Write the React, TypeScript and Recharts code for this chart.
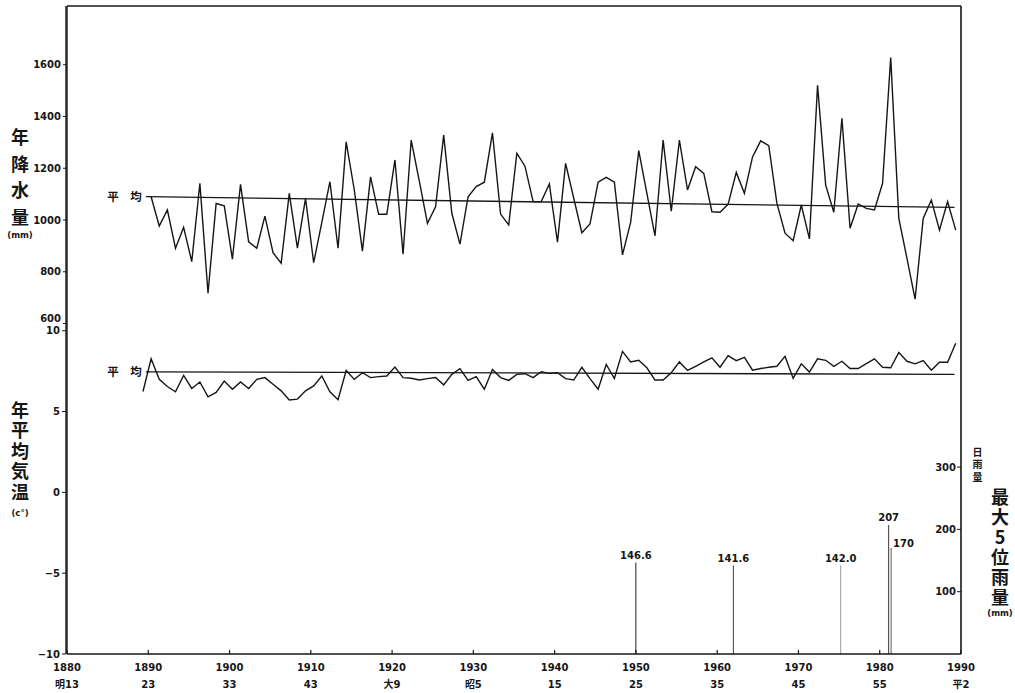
import { ComposedChart, Line, Bar, Cell, XAxis, YAxis, LabelList } from "recharts";

// annual precipitation (mm), 1890-1989
const precipStartYear = 1890;
const precipMm = [
  1090, 977, 1039, 891, 972, 839, 1142, 717, 1064, 1055,
  849, 1138, 916, 891, 1015, 874, 833, 1103, 891, 1084,
  835, 990, 1148, 891, 1302, 1116, 880, 1167, 1022, 1022,
  1232, 868, 1309, 1150, 987, 1051, 1328, 1026, 907, 1090,
  1129, 1146, 1337, 1023, 981, 1258, 1208, 1071, 1071, 1139,
  914, 1219, 1084, 951, 985, 1146, 1165, 1146, 865, 991,
  1268, 1103, 939, 1309, 1034, 1309, 1116, 1206, 1180, 1032,
  1030, 1061, 1184, 1103, 1244, 1306, 1287, 1064, 949, 920,
  1058, 927, 1521, 1135, 1030, 1393, 968, 1062, 1045, 1039,
  1142, 1628, 1006, 852, 694, 1006, 1077, 961, 1071, 961,
];

// annual mean temperature (C), 1889-1989
const tempStartYear = 1889;
const tempC = [
  6.24, 8.26, 6.99, 6.55, 6.22, 7.24, 6.43, 6.83, 5.91, 6.18,
  6.89, 6.38, 6.83, 6.43, 6.99, 7.1, 6.69, 6.28, 5.71, 5.77,
  6.28, 6.59, 7.2, 6.22, 5.73, 7.54, 6.99, 7.4, 7.1, 7.16,
  7.2, 7.75, 7.1, 7.06, 6.95, 7.04, 7.1, 6.65, 7.3, 7.65,
  6.93, 7.16, 6.38, 7.6, 7.1, 6.93, 7.3, 7.34, 7.1, 7.46,
  7.36, 7.4, 7.04, 6.95, 7.74, 7.04, 6.38, 7.91, 7.04, 8.72,
  8.07, 8.17, 7.71, 6.95, 6.95, 7.4, 8.07, 7.54, 7.8, 8.07,
  8.32, 7.74, 8.46, 8.15, 8.35, 7.56, 7.66, 7.74, 7.8, 8.41,
  7.05, 7.95, 7.44, 8.26, 8.17, 7.8, 8.11, 7.66, 7.66, 7.97,
  8.26, 7.74, 7.71, 8.66, 8.11, 7.95, 8.15, 7.56, 8.05, 8.05,
  9.23,
];

// mean ("平均") lines
const meanYears = [1889.7, 1989.2];
const precipMean = [1090, 1049];
const tempMean = [7.46, 7.3];

// top 5 daily rainfall events (mm)
const rainYears = [1950, 1962, 1975.2, 1981.1, 1981.4];
const rainMm = [146.6, 141.6, 142.0, 207, 170];
const rainLabels = ["146.6", "141.6", "142.0", "207", "170"];

const yearTicks = [1880, 1890, 1900, 1910, 1920, 1930, 1940, 1950, 1960, 1970, 1980, 1990];
const eraLabels = ["明13", "23", "33", "43", "大9", "昭5", "15", "25", "35", "45", "55", "平2"];
const precipTicks = [600, 800, 1000, 1200, 1400, 1600];
const tempTicks = [-10, -5, 0, 5, 10];
const rainTicks = [100, 200, 300];

// annual values are plotted a little into the year
const MID = 0.35;

const precipRows = precipMm.map((v, i) => ({ x: precipStartYear + i + MID, precip: v }));
const tempRows = tempC.map((v, i) => ({ x: tempStartYear + i + MID, temp: v }));
const precipMeanRows = meanYears.map((x, i) => ({ x, mean: precipMean[i] }));
const tempMeanRows = meanYears.map((x, i) => ({ x, mean: tempMean[i] }));
const rainRows = rainYears.map((x, i) => ({ x, rain: rainMm[i] }));

const rainColors = ["#111", "#1a1a1a", "#8a8a8a", "#111", "#555"];

const INK = "#161616";
const NUM_FONT = "'DejaVu Sans', 'Noto Sans CJK JP', sans-serif";
const JP_FONT = "'Noto Sans CJK JP', sans-serif";
const tickStyle = { fontSize: 10, fontFamily: NUM_FONT, fontWeight: 700, fill: INK };

function YearTick(props: any) {
  const { x, y, payload } = props;
  const i = yearTicks.indexOf(payload.value);
  return (
    <g>
      <line x1={x} x2={x} y1={y} y2={y - 4} stroke={INK} strokeWidth={1.2} />
      <text x={x} y={y + 16.5} textAnchor="middle" style={tickStyle}>
        {payload.value}
      </text>
      <text x={x} y={y + 34} textAnchor="middle" style={tickStyle}>
        {eraLabels[i]}
      </text>
    </g>
  );
}

// the lowest precipitation label sits just above the "10" of the temperature scale
function PrecipTick(props: any) {
  const { x, y, payload } = props;
  const lift = payload.value === precipTicks[0] ? -5 : 0;
  return (
    <text x={x} y={y + lift} dy={3.5} textAnchor="end" style={tickStyle}>
      {payload.value}
    </text>
  );
}

function meanLabel(p: any) {
  if (p.index !== 0) return null;
  return (
    <text x={p.x - 4} y={p.y + 4.5} textAnchor="end" fontSize={11.5} fontWeight={700} fontFamily={JP_FONT} fill={INK}>
      平　均
    </text>
  );
}

function rainLabel(p: any) {
  const cx = p.x + p.width / 2;
  const last = p.index === rainMm.length - 1;
  return (
    <text
      x={last ? cx + 2 : cx}
      y={last ? p.y - 1 : p.y - 4}
      textAnchor={last ? "start" : "middle"}
      style={tickStyle}
    >
      {rainLabels[p.index]}
    </text>
  );
}

// vertical (tategaki) title, one text node
function VTitle({ text, x, top, size, step }: { text: string; x: number; top: number; size: number; step: number }) {
  return (
    <div
      style={{
        position: "absolute",
        left: x - size / 2,
        top,
        writingMode: "vertical-rl",
        textOrientation: "upright",
        fontSize: size,
        lineHeight: size + "px",
        letterSpacing: step - size,
        fontWeight: 700,
        fontFamily: JP_FONT,
        color: INK,
        whiteSpace: "nowrap",
      }}
    >
      {text}
    </div>
  );
}

function Unit({ text, x, top }: { text: string; x: number; top: number }) {
  return (
    <div
      style={{
        position: "absolute",
        left: x - 20,
        top,
        width: 40,
        textAlign: "center",
        fontSize: 8.5,
        lineHeight: "12px",
        fontWeight: 700,
        fontFamily: NUM_FONT,
        color: INK,
      }}
    >
      {text}
    </div>
  );
}

export default function App() {
  return (
    <div style={{ position: "absolute", left: 0, top: 0, width: 1015, height: 693, background: "#fff" }}>
      <ComposedChart width={1015} height={693} data={rainRows} margin={{ top: 5, right: 54, bottom: 0, left: 0 }}>
        <XAxis
          dataKey="x"
          type="number"
          domain={[1880, 1990]}
          ticks={yearTicks}
          interval={0}
          allowDataOverflow
          height={39}
          tickSize={0}
          tickMargin={0}
          tickLine={false}
          tick={<YearTick />}
          axisLine={{ stroke: INK, strokeWidth: 1.4 }}
        />
        <XAxis
          xAxisId="top"
          orientation="top"
          type="number"
          domain={[1880, 1990]}
          height={1}
          tick={false}
          tickLine={false}
          axisLine={{ stroke: INK, strokeWidth: 1.4 }}
        />
        <YAxis
          yAxisId="p"
          width={1}
          type="number"
          domain={[-677, 1827]}
          allowDataOverflow
          ticks={precipTicks}
          interval={0}
          tickSize={4}
          tickMargin={2}
          tick={<PrecipTick />}
          tickLine={{ stroke: INK }}
          axisLine={{ stroke: INK, strokeWidth: 1.4 }}
        />
        <YAxis
          yAxisId="t"
          width={66}
          type="number"
          domain={[-10, 30.09]}
          allowDataOverflow
          ticks={tempTicks}
          interval={0}
          tickFormatter={(v: number) => (v < 0 ? "\u2212" + Math.abs(v) : String(v))}
          tickSize={4}
          tickMargin={2}
          tick={tickStyle}
          tickLine={{ stroke: INK }}
          axisLine={{ stroke: INK, strokeWidth: 1.4 }}
        />
        <YAxis
          yAxisId="r"
          orientation="right"
          mirror
          width={1}
          type="number"
          domain={[0, 1040]}
          allowDataOverflow
          ticks={rainTicks}
          interval={0}
          tickSize={4}
          tickMargin={1}
          tick={tickStyle}
          tickLine={{ stroke: INK }}
          axisLine={{ stroke: INK, strokeWidth: 1.6 }}
        />

        <Bar yAxisId="r" dataKey="rain" barSize={2} isAnimationActive={false}>
          {rainRows.map((_, i) => (
            <Cell key={i} fill={rainColors[i]} stroke={rainColors[i]} strokeWidth={0.4} />
          ))}
          <LabelList dataKey="rain" content={rainLabel} />
        </Bar>

        <Line
          yAxisId="p"
          data={precipMeanRows}
          dataKey="mean"
          type="linear"
          stroke={INK}
          strokeWidth={1.3}
          dot={false}
          isAnimationActive={false}
        >
          <LabelList dataKey="mean" content={meanLabel} />
        </Line>
        <Line
          yAxisId="p"
          data={precipRows}
          dataKey="precip"
          type="linear"
          stroke={INK}
          strokeWidth={1.4}
          dot={false}
          isAnimationActive={false}
        />
        <Line
          yAxisId="t"
          data={tempMeanRows}
          dataKey="mean"
          type="linear"
          stroke={INK}
          strokeWidth={1.3}
          dot={false}
          isAnimationActive={false}
        >
          <LabelList dataKey="mean" content={meanLabel} />
        </Line>
        <Line
          yAxisId="t"
          data={tempRows}
          dataKey="temp"
          type="linear"
          stroke={INK}
          strokeWidth={1.4}
          dot={false}
          isAnimationActive={false}
        />
      </ComposedChart>

      <VTitle text="年降水量" x={20} top={128} size={18} step={26.7} />
      <Unit text="(mm)" x={20} top={229} />
      <VTitle text="年平均気温" x={20} top={401} size={18} step={20.5} />
      <Unit text="(c°)" x={20} top={507} />
      <VTitle text="日雨量" x={977} top={447} size={10} step={12.5} />
      <VTitle text="最大5位雨量" x={1000} top={488} size={18} step={20} />
      <Unit text="(mm)" x={1000} top={607} />
    </div>
  );
}
